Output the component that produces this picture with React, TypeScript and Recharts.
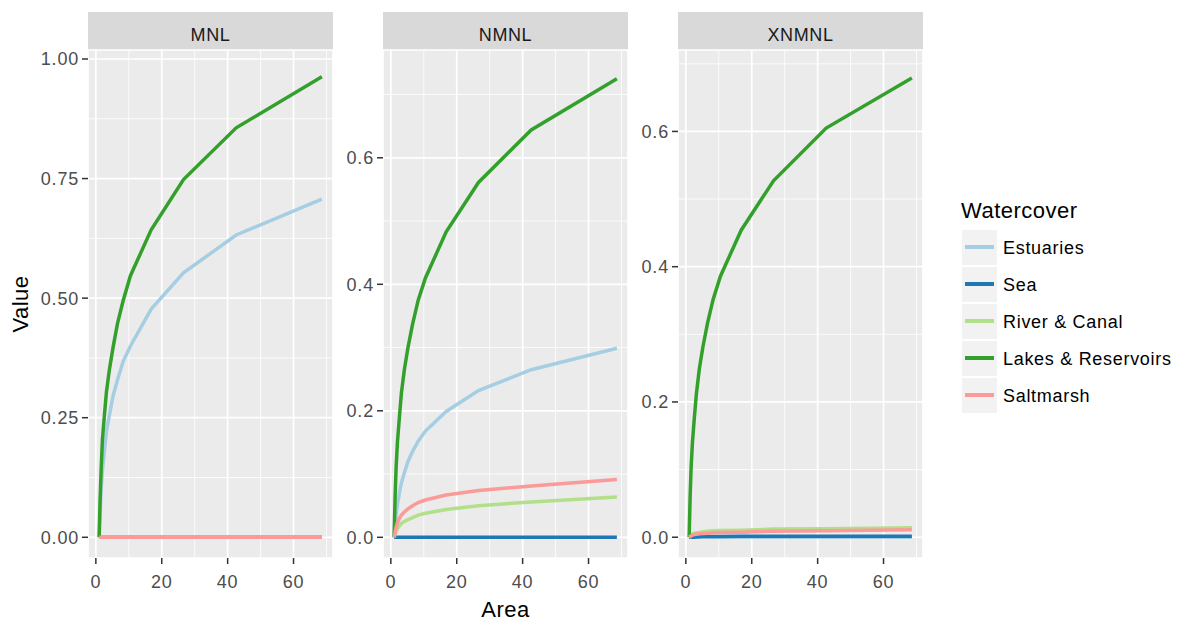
import { CartesianGrid, Line, LineChart, XAxis, YAxis } from "recharts";

const FONT = '"Liberation Sans", Arial, sans-serif';
const TICK_TEXT = "#4D4D4D";
const TICK_LINE = "#333333";
const PANEL_BG = "#EBEBEB";

// sampled Area values (shared by all panels)
const AREA = [1, 1.3, 1.6, 2, 2.6, 3.2, 4.1, 5.2, 6.6, 8.3, 10.5, 16.8, 26.6, 42.6, 68.6];

const MNL_ESTUARIES = [0, 0.05, 0.1, 0.14, 0.18, 0.22, 0.255, 0.295, 0.33, 0.368, 0.4, 0.477, 0.553, 0.632, 0.707];
const MNL_SEA = [0, 0, 0, 0, 0, 0, 0, 0, 0, 0, 0, 0, 0, 0, 0];
const MNL_RIVER = [0, 0, 0, 0, 0, 0, 0, 0, 0, 0, 0, 0, 0, 0, 0];
const MNL_LAKES = [0, 0.08, 0.14, 0.205, 0.255, 0.303, 0.35, 0.396, 0.448, 0.495, 0.547, 0.643, 0.748, 0.856, 0.963];
const MNL_SALTMARSH = [0, 0, 0, 0, 0, 0, 0, 0, 0, 0, 0, 0, 0, 0, 0];

const NMNL_ESTUARIES = [0, 0.018, 0.035, 0.052, 0.07, 0.086, 0.102, 0.12, 0.136, 0.152, 0.168, 0.199, 0.232, 0.265, 0.299];
const NMNL_SEA = [0, 0, 0, 0, 0, 0, 0, 0, 0, 0, 0, 0, 0, 0, 0];
const NMNL_RIVER = [0, 0.005, 0.01, 0.014, 0.018, 0.022, 0.025, 0.028, 0.031, 0.035, 0.038, 0.044, 0.05, 0.056, 0.0637];
const NMNL_LAKES = [0, 0.065, 0.11, 0.15, 0.19, 0.228, 0.265, 0.3, 0.337, 0.375, 0.41, 0.483, 0.561, 0.644, 0.725];
const NMNL_SALTMARSH = [0, 0.008, 0.016, 0.023, 0.03, 0.035, 0.04, 0.045, 0.05, 0.055, 0.059, 0.067, 0.074, 0.081, 0.0915];

const XNMNL_ESTUARIES = [0, 0, 0, 0, 0, 0, 0, 0, 0, 0, 0, 0, 0, 0, 0];
const XNMNL_SEA = [0, 0, 0, 0, 0, 0.0005, 0.0007, 0.001, 0.001, 0.001, 0.0012, 0.0015, 0.0015, 0.0015, 0.0015];
const XNMNL_RIVER = [0, 0.002, 0.004, 0.005, 0.006, 0.0065, 0.007, 0.008, 0.009, 0.0095, 0.01, 0.0105, 0.012, 0.0125, 0.014];
const XNMNL_LAKES = [0, 0.06, 0.103, 0.14, 0.178, 0.212, 0.249, 0.282, 0.317, 0.352, 0.386, 0.454, 0.527, 0.605, 0.679];
const XNMNL_SALTMARSH = [0, 0.001, 0.002, 0.003, 0.004, 0.0045, 0.005, 0.0055, 0.006, 0.0065, 0.007, 0.0075, 0.009, 0.0095, 0.011];

const X_TICKS = [0, 20, 40, 60];
const X_MINOR = [10, 30, 50, 70];
const X_DOMAIN: [number, number] = [-2.38, 71.98];

const SERIES = [
  { key: "estuaries", name: "Estuaries", color: "#A6CEE3" },
  { key: "sea", name: "Sea", color: "#1F78B4" },
  { key: "river", name: "River & Canal", color: "#B2DF8A" },
  { key: "lakes", name: "Lakes & Reservoirs", color: "#33A02C" },
  { key: "saltmarsh", name: "Saltmarsh", color: "#FB9A99" },
];

const PANELS = [
  {
    title: "MNL",
    left: 0,
    width: 340,
    yWidth: 88,
    right: 7,
    domain: [-0.0433, 1.0188],
    ticks: [0, 0.25, 0.5, 0.75, 1],
    minor: [0.125, 0.375, 0.625, 0.875],
    digits: 2,
    values: {
      estuaries: MNL_ESTUARIES,
      sea: MNL_SEA,
      river: MNL_RIVER,
      lakes: MNL_LAKES,
      saltmarsh: MNL_SALTMARSH,
    },
  },
  {
    title: "NMNL",
    left: 333,
    width: 300,
    yWidth: 50,
    right: 5,
    domain: [-0.0327, 0.7704],
    ticks: [0, 0.2, 0.4, 0.6],
    minor: [0.1, 0.3, 0.5, 0.7],
    digits: 1,
    values: {
      estuaries: NMNL_ESTUARIES,
      sea: NMNL_SEA,
      river: NMNL_RIVER,
      lakes: NMNL_LAKES,
      saltmarsh: NMNL_SALTMARSH,
    },
  },
  {
    title: "XNMNL",
    left: 628,
    width: 300,
    yWidth: 50,
    right: 5,
    domain: [-0.0307, 0.7204],
    ticks: [0, 0.2, 0.4, 0.6],
    minor: [0.1, 0.3, 0.5, 0.7],
    digits: 1,
    values: {
      estuaries: XNMNL_ESTUARIES,
      sea: XNMNL_SEA,
      river: XNMNL_RIVER,
      lakes: XNMNL_LAKES,
      saltmarsh: XNMNL_SALTMARSH,
    },
  },
];

type PanelDef = (typeof PANELS)[number];

function Panel({ panel }: { panel: PanelDef }) {
  const rows = AREA.map((a, i) => {
    const row: Record<string, number> = { area: a };
    SERIES.forEach((s) => {
      row[s.key] = (panel.values as Record<string, number[]>)[s.key][i];
    });
    return row;
  });
  const plotLeft = panel.left + panel.yWidth;
  const plotWidth = panel.width - panel.yWidth - panel.right;
  return (
    <>
      <div
        style={{
          position: "absolute",
          left: plotLeft,
          top: 12,
          width: plotWidth,
          height: 38,
          background: "#D9D9D9",
        }}
      >
        <div
          style={{
            position: "absolute",
            left: 0,
            right: 0,
            top: 12.5,
            lineHeight: "20px",
            fontSize: 18,
            color: "#1A1A1A",
            textAlign: "center",
            letterSpacing: 0.6,
          }}
        >
          {panel.title}
        </div>
      </div>
      <div style={{ position: "absolute", left: panel.left, top: 0, letterSpacing: 0.8 }}>
        <LineChart
          width={panel.width}
          height={621}
          data={rows}
          margin={{ top: 50, right: panel.right, bottom: 33, left: 0 }}
        >
          <CartesianGrid
            fill={PANEL_BG}
            fillOpacity={1}
            stroke="#FFFFFF"
            strokeWidth={0.8}
            horizontalValues={panel.minor}
            verticalValues={X_MINOR}
          />
          <CartesianGrid stroke="#FFFFFF" strokeWidth={1.7} />
          <XAxis
            type="number"
            dataKey="area"
            domain={X_DOMAIN}
            ticks={X_TICKS}
            allowDataOverflow
            interval={0}
            height={30}
            axisLine={false}
            tickLine={{ stroke: TICK_LINE, strokeWidth: 1.5 }}
            tickSize={6}
            tickMargin={11}
            tick={{ fill: TICK_TEXT, fontSize: 18 }}
          />
          <YAxis
            type="number"
            domain={panel.domain}
            ticks={panel.ticks}
            allowDataOverflow
            interval={0}
            width={panel.yWidth}
            axisLine={false}
            tickLine={{ stroke: TICK_LINE, strokeWidth: 1.5 }}
            tickSize={6}
            tickMargin={3}
            tick={{ fill: TICK_TEXT, fontSize: 18 }}
            tickFormatter={(v: number) => v.toFixed(panel.digits)}
          />
          {SERIES.map((s) => (
            <Line
              key={s.key}
              type="linear"
              dataKey={s.key}
              name={s.name}
              stroke={s.color}
              strokeWidth={3.5}
              dot={false}
              activeDot={false}
              isAnimationActive={false}
            />
          ))}
        </LineChart>
      </div>
    </>
  );
}

export default function App() {
  return (
    <div
      style={{
        position: "absolute",
        left: 0,
        top: 0,
        width: 1181,
        height: 621,
        background: "#FFFFFF",
        fontFamily: FONT,
        overflow: "hidden",
      }}
    >
      {PANELS.map((p) => (
        <Panel key={p.title} panel={p} />
      ))}

      {/* axis titles */}
      <div
        style={{
          position: "absolute",
          left: -29,
          top: 291,
          width: 100,
          lineHeight: "26px",
          fontSize: 22,
          textAlign: "center",
          transform: "rotate(-90deg)",
          letterSpacing: 0.5,
        }}
      >
        Value
      </div>
      <div
        style={{
          position: "absolute",
          left: 455.5,
          top: 596.5,
          width: 100,
          lineHeight: "26px",
          fontSize: 22,
          textAlign: "center",
          letterSpacing: 0.5,
        }}
      >
        Area
      </div>

      {/* legend */}
      <div
        style={{
          position: "absolute",
          left: 961,
          top: 198,
          lineHeight: "26px",
          fontSize: 22,
          letterSpacing: 0.5,
        }}
      >
        Watercover
      </div>
      {SERIES.map((s, i) => (
        <div key={s.key}>
          <div
            style={{
              position: "absolute",
              left: 961,
              top: 229 + i * 37,
              width: 37,
              height: 37,
              boxSizing: "border-box",
              border: "1px solid #FFFFFF",
              background: "#F2F2F2",
            }}
          >
            <div
              style={{
                position: "absolute",
                left: 2.5,
                width: 29,
                top: 15,
                height: 4,
                background: s.color,
              }}
            />
          </div>
          <div
            style={{
              position: "absolute",
              left: 1003,
              top: 229 + i * 37 + 8.5,
              lineHeight: "20px",
              fontSize: 18,
              letterSpacing: 0.7,
              whiteSpace: "nowrap",
            }}
          >
            {s.name}
          </div>
        </div>
      ))}
    </div>
  );
}
